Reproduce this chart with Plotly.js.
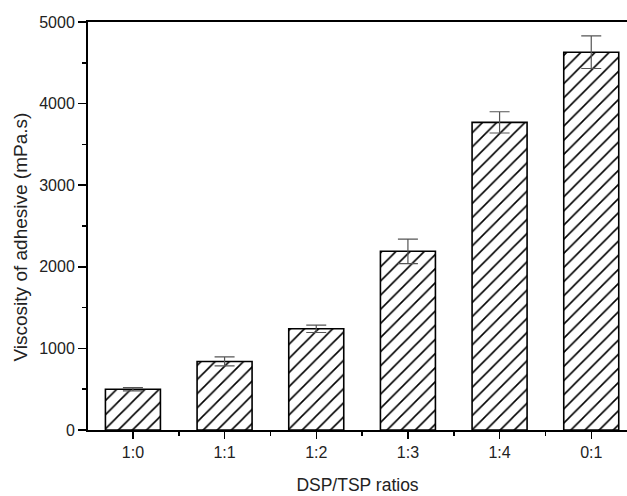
<!DOCTYPE html>
<html>
<head>
<meta charset="utf-8">
<script src="https://cdn.plot.ly/plotly-3.0.1.min.js"></script>
<style>html,body{margin:0;padding:0;background:#fff;}#chart{width:627px;height:496px;}</style>
</head>
<body>
<div id="chart"></div>
<script>
const categories = ["1:0", "1:1", "1:2", "1:3", "1:4", "0:1"];
const viscosity = [500, 840, 1240, 2190, 3770, 4630];
const errors = [20, 55, 45, 150, 130, 200];
const yTicks = [0, 1000, 2000, 3000, 4000, 5000];
const yTitle = "Viscosity of adhesive (mPa.s)";
const xTitle = "DSP/TSP ratios";

const trace = {
  type: "bar",
  x: categories.map((c, i) => i),
  y: viscosity,
  width: 0.6,
  marker: {
    color: "#ffffff",
    line: {color: "#000000", width: 1.6},
    pattern: {shape: "/", size: 10, solidity: 0.16, fgcolor: "#000000", fgopacity: 1, bgcolor: "#ffffff", fillmode: "replace"}
  },
  error_y: {type: "data", array: errors, visible: true, color: "#555555", thickness: 1.2, width: 10}
};

const fam = "Liberation Sans, Arial, sans-serif";

const layout = {
  width: 627, height: 496,
  margin: {l: 88, r: 0, t: 22, b: 66},
  paper_bgcolor: "#ffffff", plot_bgcolor: "#ffffff",
  showlegend: false,
  font: {family: fam, size: 16, color: "#222"},
  xaxis: {
    range: [-0.49, 5.39],
    tickmode: "array",
    tickvals: categories.map((c, i) => i),
    ticktext: categories,
    ticks: "outside", ticklen: 7, tickwidth: 1.5, tickcolor: "#000",
    minor: {tickmode: "array", tickvals: [0.5, 1.5, 2.5, 3.5, 4.5], ticks: "outside", ticklen: 4, tickwidth: 1.5, tickcolor: "#000"},
    showline: true, linecolor: "#000", linewidth: 2, mirror: true,
    showgrid: false, zeroline: false,
    automargin: false,
    tickfont: {family: fam, size: 16, color: "#222"},
    title: {text: xTitle, font: {family: fam, size: 17.5, color: "#222"}, standoff: 19}
  },
  yaxis: {
    range: [0, 5000],
    tickmode: "array",
    tickvals: yTicks,
    ticktext: yTicks.map(String),
    ticks: "outside", ticklen: 8, tickwidth: 1.5, tickcolor: "#000",
    minor: {tickmode: "array", tickvals: [500, 1500, 2500, 3500, 4500], ticks: "outside", ticklen: 4, tickwidth: 1.5, tickcolor: "#000"},
    showline: true, linecolor: "#000", linewidth: 2, mirror: false,
    showgrid: false, zeroline: false,
    automargin: false,
    tickfont: {family: fam, size: 16, color: "#222"}
  },
  annotations: [{
    text: yTitle, textangle: -90, showarrow: false,
    xref: "paper", yref: "paper", x: -0.126, y: 0.472,
    xanchor: "center", yanchor: "middle",
    font: {family: fam, size: 19, color: "#222"}
  }]
};

Plotly.newPlot("chart", [trace], layout, {displayModeBar: false, staticPlot: true});
</script>
</body>
</html>
